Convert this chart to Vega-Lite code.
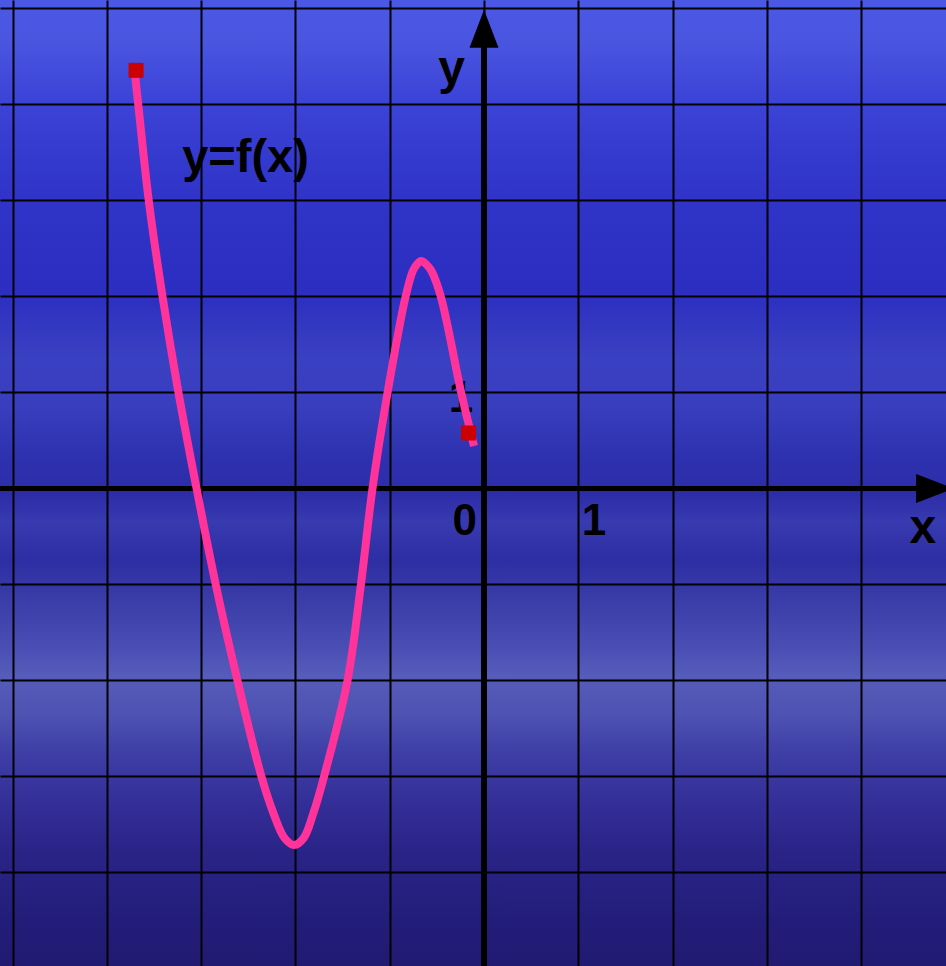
{
  "$schema": "https://vega.github.io/schema/vega-lite/v6.json",
  "width": 946,
  "height": 966,
  "autosize": {"type": "fit", "contains": "padding"},
  "padding": 0,
  "background": "#2a2cb0",
  "config": {
    "view": {
      "stroke": null,
      "fill": {
        "gradient": "linear",
        "x1": 0, "y1": 0, "x2": 0, "y2": 1,
        "stops": [
          {"offset": 0, "color": "#4a58e6"},
          {"offset": 0.04, "color": "#4a56e0"},
          {"offset": 0.1, "color": "#3d44d8"},
          {"offset": 0.2, "color": "#3034c8"},
          {"offset": 0.3, "color": "#2b2ec0"},
          {"offset": 0.37, "color": "#3a40c2"},
          {"offset": 0.42, "color": "#383ebe"},
          {"offset": 0.47, "color": "#2e32b0"},
          {"offset": 0.51, "color": "#2c2ca8"},
          {"offset": 0.54, "color": "#383ab0"},
          {"offset": 0.58, "color": "#2e2ea4"},
          {"offset": 0.62, "color": "#3a3ca8"},
          {"offset": 0.67, "color": "#4a4eb4"},
          {"offset": 0.7, "color": "#565cba"},
          {"offset": 0.74, "color": "#4e52b2"},
          {"offset": 0.78, "color": "#3e3ea6"},
          {"offset": 0.83, "color": "#342f98"},
          {"offset": 0.88, "color": "#2a2488"},
          {"offset": 0.94, "color": "#241e7c"},
          {"offset": 1, "color": "#201a72"}
        ]
      }
    },
    "axis": {
      "domain": false,
      "labels": false,
      "ticks": false,
      "grid": true,
      "gridColor": "#000000",
      "gridWidth": 2,
      "gridOpacity": 1,
      "title": null
    }
  },
  "datasets": {
    "one": [{}],
    "curve": [
      {"x": -3.706, "y": 4.359},
      {"x": -3.666, "y": 3.995},
      {"x": -3.555, "y": 2.998},
      {"x": -3.409, "y": 1.998},
      {"x": -3.24, "y": 0.998},
      {"x": -3.049, "y": 0.005},
      {"x": -2.844, "y": -1.005},
      {"x": -2.614, "y": -2.002},
      {"x": -2.36, "y": -3.002},
      {"x": -2.234, "y": -3.38},
      {"x": -2.116, "y": -3.641},
      {"x": -2.012, "y": -3.714},
      {"x": -1.912, "y": -3.641},
      {"x": -1.809, "y": -3.38},
      {"x": -1.697, "y": -3.002},
      {"x": -1.448, "y": -2.002},
      {"x": -1.306, "y": -1.005},
      {"x": -1.182, "y": 0.005},
      {"x": -1.023, "y": 0.998},
      {"x": -0.832, "y": 1.998},
      {"x": -0.755, "y": 2.266},
      {"x": -0.716, "y": 2.33},
      {"x": -0.668, "y": 2.37},
      {"x": -0.607, "y": 2.33},
      {"x": -0.557, "y": 2.266},
      {"x": -0.458, "y": 1.998},
      {"x": -0.242, "y": 0.998},
      {"x": -0.106, "y": 0.443}
    ],
    "endpoints": [
      {"x": -3.69, "y": 4.356},
      {"x": -0.164, "y": 0.578}
    ],
    "numbers": [
      {"x": -0.205, "y": -0.484, "text": "0"},
      {"x": 1.166, "y": -0.484, "text": "1"},
      {"x": -0.244, "y": 0.8, "text": "1"}
    ],
    "fname": [
      {"x": -2.529, "y": 3.297, "text": "y=f(x)"}
    ],
    "axisnames": [
      {"x": -0.345, "y": 4.21, "text": "y"},
      {"x": 4.653, "y": -0.565, "text": "x"}
    ]
  },
  "layer": [
    {
      "data": {"name": "one"},
      "mark": {"type": "rule", "color": "#000000", "strokeWidth": 5, "clip": true},
      "encoding": {
        "x": {"datum": -5.1326, "type": "quantitative", "scale": {"domain": [-5.1326, 4.899], "nice": false, "zero": false}, "axis": {"values": [-5, -4, -3, -2, -1, 0, 1, 2, 3, 4]}},
        "x2": {"datum": 4.75},
        "y": {"datum": 0, "type": "quantitative", "scale": {"domain": [-4.974, 5.0885], "nice": false, "zero": false}, "axis": {"values": [-4, -3, -2, -1, 0, 1, 2, 3, 4, 5]}}
      }
    },
    {
      "data": {"name": "one"},
      "mark": {"type": "rule", "color": "#000000", "strokeWidth": 6, "clip": true},
      "encoding": {
        "x": {"datum": 0, "type": "quantitative", "scale": {"domain": [-5.1326, 4.899], "nice": false, "zero": false}, "axis": {"values": [-5, -4, -3, -2, -1, 0, 1, 2, 3, 4]}},
        "y": {"datum": -4.974, "type": "quantitative", "scale": {"domain": [-4.974, 5.0885], "nice": false, "zero": false}, "axis": {"values": [-4, -3, -2, -1, 0, 1, 2, 3, 4, 5]}},
        "y2": {"datum": 4.75}
      }
    },
    {
      "data": {"name": "one"},
      "mark": {"type": "point", "shape": "M0,-1L0.763,1L-0.763,1Z", "size": 1444, "filled": true, "color": "#000000", "opacity": 1, "strokeWidth": 0, "clip": true},
      "encoding": {
        "x": {"datum": 0, "type": "quantitative", "scale": {"domain": [-5.1326, 4.899], "nice": false, "zero": false}, "axis": {"values": [-5, -4, -3, -2, -1, 0, 1, 2, 3, 4]}},
        "y": {"datum": 4.788, "type": "quantitative", "scale": {"domain": [-4.974, 5.0885], "nice": false, "zero": false}, "axis": {"values": [-4, -3, -2, -1, 0, 1, 2, 3, 4, 5]}}
      }
    },
    {
      "data": {"name": "one"},
      "mark": {"type": "point", "shape": "M1,0L-1,0.763L-1,-0.763Z", "size": 1444, "filled": true, "color": "#000000", "opacity": 1, "strokeWidth": 0, "clip": true},
      "encoding": {
        "x": {"datum": 4.783, "type": "quantitative", "scale": {"domain": [-5.1326, 4.899], "nice": false, "zero": false}, "axis": {"values": [-5, -4, -3, -2, -1, 0, 1, 2, 3, 4]}},
        "y": {"datum": 0, "type": "quantitative", "scale": {"domain": [-4.974, 5.0885], "nice": false, "zero": false}, "axis": {"values": [-4, -3, -2, -1, 0, 1, 2, 3, 4, 5]}}
      }
    },
    {
      "data": {"name": "numbers"},
      "mark": {"type": "text", "font": "Liberation Sans", "fontWeight": "bold", "fontSize": 44, "color": "#000000", "align": "center", "baseline": "alphabetic"},
      "encoding": {
        "x": {"field": "x", "type": "quantitative", "scale": {"domain": [-5.1326, 4.899], "nice": false, "zero": false}, "axis": {"values": [-5, -4, -3, -2, -1, 0, 1, 2, 3, 4]}},
        "y": {"field": "y", "type": "quantitative", "scale": {"domain": [-4.974, 5.0885], "nice": false, "zero": false}, "axis": {"values": [-4, -3, -2, -1, 0, 1, 2, 3, 4, 5]}},
        "text": {"field": "text"}
      }
    },
    {
      "data": {"name": "fname"},
      "mark": {"type": "text", "font": "Liberation Sans", "fontWeight": "bold", "fontSize": 47, "color": "#000000", "align": "center", "baseline": "alphabetic"},
      "encoding": {
        "x": {"field": "x", "type": "quantitative", "scale": {"domain": [-5.1326, 4.899], "nice": false, "zero": false}, "axis": {"values": [-5, -4, -3, -2, -1, 0, 1, 2, 3, 4]}},
        "y": {"field": "y", "type": "quantitative", "scale": {"domain": [-4.974, 5.0885], "nice": false, "zero": false}, "axis": {"values": [-4, -3, -2, -1, 0, 1, 2, 3, 4, 5]}},
        "text": {"field": "text"}
      }
    },
    {
      "data": {"name": "axisnames"},
      "mark": {"type": "text", "font": "Liberation Sans", "fontWeight": "bold", "fontSize": 48, "color": "#000000", "align": "center", "baseline": "alphabetic"},
      "encoding": {
        "x": {"field": "x", "type": "quantitative", "scale": {"domain": [-5.1326, 4.899], "nice": false, "zero": false}, "axis": {"values": [-5, -4, -3, -2, -1, 0, 1, 2, 3, 4]}},
        "y": {"field": "y", "type": "quantitative", "scale": {"domain": [-4.974, 5.0885], "nice": false, "zero": false}, "axis": {"values": [-4, -3, -2, -1, 0, 1, 2, 3, 4, 5]}},
        "text": {"field": "text"}
      }
    },
    {
      "data": {"name": "curve"},
      "mark": {"type": "line", "color": "#ff3399", "strokeWidth": 8, "interpolate": "catmull-rom", "strokeCap": "butt", "strokeJoin": "round"},
      "encoding": {
        "x": {"field": "x", "type": "quantitative", "scale": {"domain": [-5.1326, 4.899], "nice": false, "zero": false}, "axis": {"values": [-5, -4, -3, -2, -1, 0, 1, 2, 3, 4]}},
        "y": {"field": "y", "type": "quantitative", "scale": {"domain": [-4.974, 5.0885], "nice": false, "zero": false}, "axis": {"values": [-4, -3, -2, -1, 0, 1, 2, 3, 4, 5]}}
      }
    },
    {
      "data": {"name": "endpoints"},
      "mark": {"type": "point", "shape": "square", "size": 225, "filled": true, "color": "#cc0000", "opacity": 1, "strokeWidth": 0},
      "encoding": {
        "x": {"field": "x", "type": "quantitative", "scale": {"domain": [-5.1326, 4.899], "nice": false, "zero": false}, "axis": {"values": [-5, -4, -3, -2, -1, 0, 1, 2, 3, 4]}},
        "y": {"field": "y", "type": "quantitative", "scale": {"domain": [-4.974, 5.0885], "nice": false, "zero": false}, "axis": {"values": [-4, -3, -2, -1, 0, 1, 2, 3, 4, 5]}}
      }
    }
  ]
}
